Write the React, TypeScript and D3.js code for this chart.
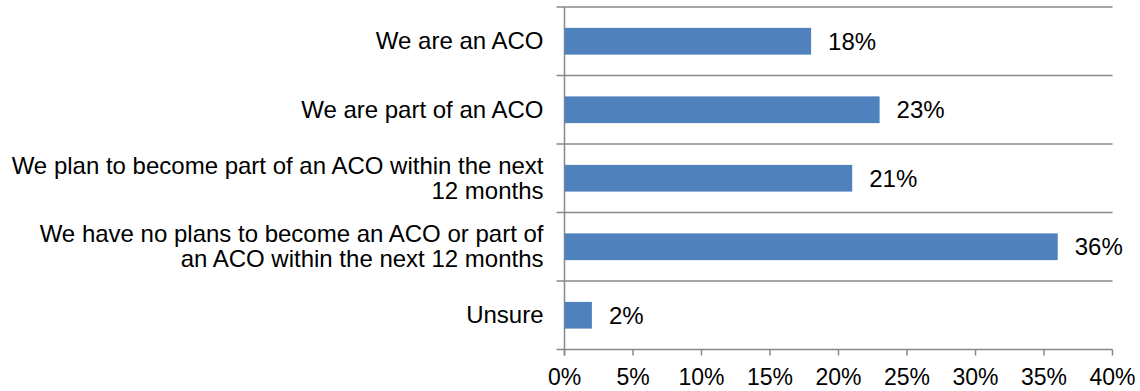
import React from "react";
import * as d3 from "d3";

const categories: string[][] = [
  ["We are an ACO"],
  ["We are part of an ACO"],
  ["We plan to become part of an ACO within the next", "12 months"],
  ["We have no plans to become an ACO or part of", "an ACO within the next 12 months"],
  ["Unsure"],
];
const values = [18, 23, 21, 36, 2];
const xTicks = [0, 5, 10, 15, 20, 25, 30, 35, 40];

const W = 1140;
const H = 391;
const left = 564.5;
const right = 1112.5;
const top = 7;
const bottom = 349.5;
const FONT = "Liberation Sans, Arial, sans-serif";
const FS = 24;

export default function App() {
  const x = d3.scaleLinear().domain([0, 40]).range([left, right]);
  const idx = categories.map((_, i) => String(i));
  const y = d3.scaleBand().domain(idx).range([top, bottom]).paddingInner(0).paddingOuter(0);
  const bw = y.bandwidth();
  const barH = bw * 0.39;
  const axisColor = "#888888";
  const boundaries = d3.range(categories.length + 1).map((i) => top + i * bw);

  return (
    <svg width={W} height={H} style={{ position: "absolute", left: 0, top: 0 }} fontFamily={FONT}>
      <rect width={W} height={H} fill="#fff" />
      {boundaries.map((b, i) => (
        <line key={"g" + i} x1={left - 8} x2={right} y1={b} y2={b} stroke={axisColor} strokeWidth={1.5} />
      ))}
      <line x1={left} x2={left} y1={top} y2={bottom + 6} stroke={axisColor} strokeWidth={1.5} />
      {xTicks.map((t) => (
        <g key={"t" + t}>
          <line x1={x(t)} x2={x(t)} y1={bottom} y2={bottom + 6} stroke={axisColor} strokeWidth={1.5} />
          <text x={x(t)} y={385} textAnchor="middle" fontSize={FS - 1} fill="#000">
            {t}%
          </text>
        </g>
      ))}
      {values.map((v, i) => {
        const yc = (y(String(i)) as number) + bw / 2;
        return (
          <g key={"b" + i}>
            <rect x={x(0)} y={yc - barH / 2} width={x(v) - x(0)} height={barH} fill="#4F81BD" />
            <text x={x(v) + 17} y={yc + 8.5} fontSize={FS} fill="#000">
              {v}%
            </text>
          </g>
        );
      })}
      {categories.map((lines, i) => {
        const yc = (y(String(i)) as number) + bw / 2;
        const lh = 25;
        const start = yc - ((lines.length - 1) * lh) / 2;
        return (
          <text key={"c" + i} x={left - 21} textAnchor="end" fontSize={FS} fill="#000">
            {lines.map((l, j) => (
              <tspan key={j} x={left - 21} y={start + j * lh + 8}>
                {l}
              </tspan>
            ))}
          </text>
        );
      })}
    </svg>
  );
}
